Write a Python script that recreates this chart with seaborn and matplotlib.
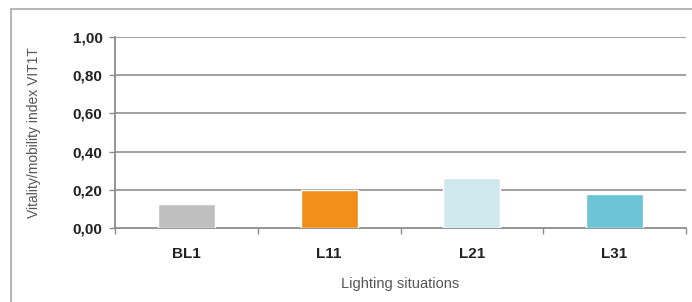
import matplotlib
matplotlib.use("Agg")
import matplotlib.pyplot as plt
import seaborn as sns
import pandas as pd
from matplotlib.patches import Rectangle
from matplotlib.ticker import FixedLocator

categories = ["BL1", "L11", "L21", "L31"]
values = [0.125, 0.20, 0.26, 0.178]
colors = ["#BFBFBF", "#F0901A", "#CFE8EE", "#6CC4D6"]
yticks = [0.0, 0.2, 0.4, 0.6, 0.8, 1.0]
ytick_labels = ["0,00", "0,20", "0,40", "0,60", "0,80", "1,00"]

sns.set_theme(style="white")
plt.rcParams['font.family'] = ['Liberation Sans Narrow', 'Liberation Sans', 'DejaVu Sans']

df = pd.DataFrame({"cat": categories, "val": values})

fig = plt.figure(figsize=(6.92, 3.02), dpi=100)
fig.patch.set_facecolor("white")
fig.patches.append(Rectangle((11/692, -0.1), 1.2, 1 - 9/302 + 0.1, transform=fig.transFigure,
                             fill=False, edgecolor="#A8A8A8", linewidth=1.2, zorder=0))

ax = fig.add_axes([115/692, 1 - 228/302, (686 - 115)/692, (228 - 37)/302])
sns.barplot(data=df, x="cat", y="val", hue="cat", palette=colors, width=0.4,
            legend=False, ax=ax, saturation=1, zorder=3)

ax.set_xlim(-0.5, 3.5)
ax.set_ylim(0, 1.0)
ax.set_yticks(yticks)
ax.set_yticklabels(ytick_labels, fontweight="bold", fontsize=11, color="#222222")
ax.set_xticks(range(len(categories)))
ax.set_xticklabels(categories, fontweight="bold", fontsize=11, color="#222222")
ax.xaxis.set_minor_locator(FixedLocator([-0.5, 0.5, 1.5, 2.5, 3.5]))
ax.tick_params(axis="x", which="major", length=0, pad=14)
ax.tick_params(axis="x", which="minor", length=4, width=1, color="#8C8C8C", direction="out", bottom=True)
ax.tick_params(axis="y", which="major", length=4, width=1, color="#8C8C8C", direction="out", left=True, pad=5)

for y in yticks[1:]:
    ax.axhline(y, color="#9A9A9A", linewidth=1.3, zorder=1)

for side in ["top", "right"]:
    ax.spines[side].set_visible(False)
for side in ["left", "bottom"]:
    ax.spines[side].set_color("#8C8C8C")
    ax.spines[side].set_linewidth(1.3)

ax.set_xlabel("Lighting situations", fontsize=10.5, color="#555555", labelpad=11)
ax.set_ylabel("Vitality/mobility index VIT1T", fontsize=10, color="#555555", labelpad=23)
ax.grid(False)

fig.savefig("out.png", dpi=100)
